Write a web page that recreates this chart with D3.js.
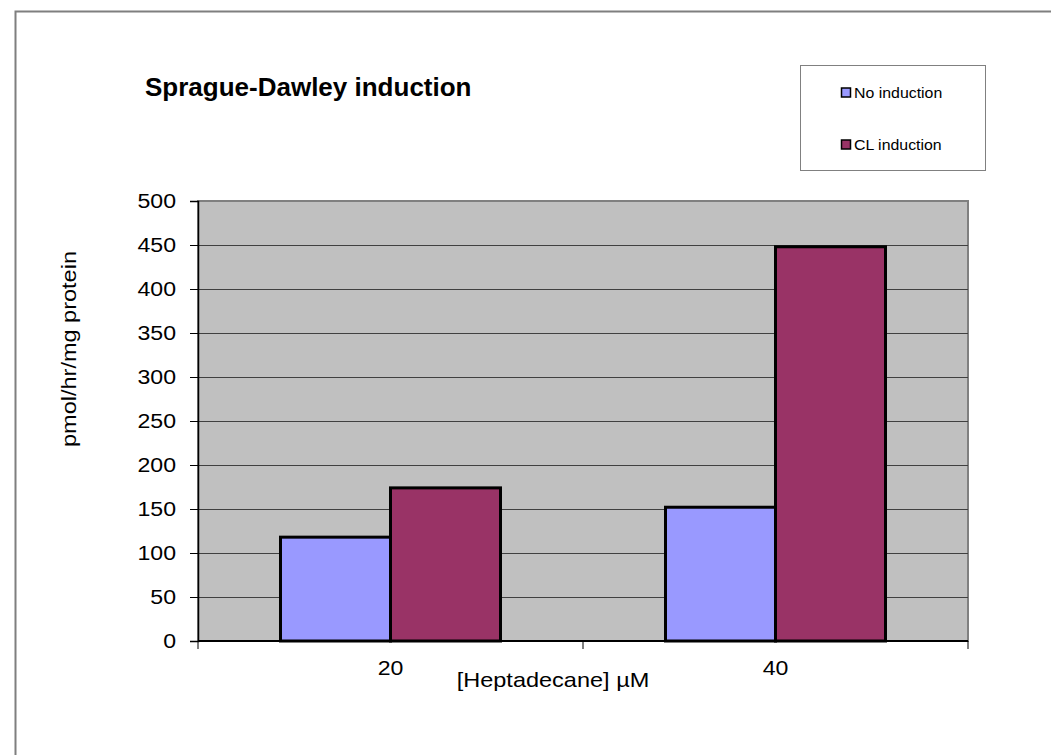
<!DOCTYPE html>
<html>
<head>
<meta charset="utf-8">
<script src="https://cdn.jsdelivr.net/npm/d3@7"></script>
<style>
  html, body { margin: 0; padding: 0; background: #fff; }
  svg { display: block; font-family: "Liberation Sans", Arial, sans-serif; }
</style>
</head>
<body>
<svg id="chart" width="1051" height="755"></svg>
<script>
// Heptadecane concentrations (µM) and activity per series
const categories = ["20", "40"];
const seriesNames = ["No induction", "CL induction"];
const noInduction = [118, 152];
const clInduction = [174, 448];
const yTicks = [0, 50, 100, 150, 200, 250, 300, 350, 400, 450, 500];
const seriesColors = ["#9999ff", "#993366"];

const svg = d3.select("#chart");

// text placed at (x, y) and widened horizontally by factor f
function wideText(parent, x, y, f, rotate) {
  const g = parent.append("g")
    .attr("transform", `translate(${x},${y})` + (rotate ? ` rotate(${rotate})` : "") + ` scale(${f},1)`);
  return g.append("text").attr("x", 0).attr("y", 0);
}

// outer chart frame
svg.append("path")
  .attr("d", "M15.5,760 V11.5 H1060")
  .attr("fill", "none")
  .attr("stroke", "#7f7f7f")
  .attr("stroke-width", 2);

const plot = { left: 198, right: 968, top: 201, bottom: 641 };

const x0 = d3.scaleBand().domain(categories).range([plot.left, plot.right]).paddingInner(0).paddingOuter(0);
const x1 = d3.scaleBand().domain(seriesNames).range([0, 220]);
const y = d3.scaleLinear().domain([0, 500]).range([plot.bottom, plot.top]);

// plot area background
svg.append("rect")
  .attr("x", plot.left).attr("y", plot.top)
  .attr("width", plot.right - plot.left).attr("height", plot.bottom - plot.top)
  .attr("fill", "#c0c0c0")
  .attr("stroke", "#808080").attr("stroke-width", 2);

// horizontal gridlines
svg.append("g")
  .selectAll("line")
  .data(yTicks.filter(d => d > 0 && d < 500))
  .join("line")
  .attr("x1", plot.left).attr("x2", plot.right)
  .attr("y1", d => Math.round(y(d)) + 0.5).attr("y2", d => Math.round(y(d)) + 0.5)
  .attr("stroke", "#404040").attr("stroke-width", 1);

// bars
const rows = categories.map((c, i) => ({ cat: c, vals: [noInduction[i], clInduction[i]] }));
svg.append("g")
  .selectAll("g")
  .data(rows)
  .join("g")
  .attr("transform", d => `translate(${x0(d.cat) + x0.bandwidth() / 2 - 110},0)`)
  .selectAll("rect")
  .data(d => d.vals.map((v, j) => ({ name: seriesNames[j], v, j })))
  .join("rect")
  .attr("x", d => x1(d.name))
  .attr("y", d => y(d.v))
  .attr("width", x1.bandwidth())
  .attr("height", d => y(0) - y(d.v))
  .attr("fill", d => seriesColors[d.j])
  .attr("stroke", "#000").attr("stroke-width", 3);

// y axis
const tickStretch = 1.1;
const yAxis = d3.axisLeft(y).tickValues(yTicks).tickSize(8).tickPadding(14);
const gy = svg.append("g").attr("transform", `translate(${plot.left},0)`).call(yAxis);
gy.attr("font-family", null).attr("font-size", null);
gy.select(".domain").attr("stroke", "#000").attr("stroke-width", 1.5);
gy.selectAll(".tick line").attr("stroke", "#000");
gy.selectAll(".tick text")
  .attr("font-size", 21).attr("fill", "#000")
  .attr("x", -22 / tickStretch)
  .attr("transform", `scale(${tickStretch},1)`);

// x axis: ticks at category boundaries
const gx = svg.append("g").attr("transform", `translate(0,${plot.bottom})`);
gx.append("line").attr("x1", plot.left).attr("x2", plot.right)
  .attr("y1", 0).attr("y2", 0).attr("stroke", "#000").attr("stroke-width", 2);
const bounds = [plot.left, ...categories.map(c => x0(c) + x0.bandwidth())];
gx.selectAll("line.tk").data(bounds).join("line").attr("class", "tk")
  .attr("x1", d => d).attr("x2", d => d).attr("y1", 0).attr("y2", 8)
  .attr("stroke", "#000");
categories.forEach(c => {
  wideText(gx, x0(c) + x0.bandwidth() / 2, 34, tickStretch)
    .attr("text-anchor", "middle").attr("font-size", 21).text(c);
});

// titles
svg.append("text").attr("x", 145).attr("y", 96)
  .attr("font-size", 26).attr("font-weight", "bold").text("Sprague-Dawley induction");
wideText(svg, 553, 687, 1.12)
  .attr("text-anchor", "middle").attr("font-size", 21).text("[Heptadecane] µM");
wideText(svg, 76, 349, 1.12, -90)
  .attr("text-anchor", "middle").attr("font-size", 21).text("pmol/hr/mg protein");

// legend
const lg = svg.append("g");
lg.append("rect").attr("x", 800.5).attr("y", 65.5).attr("width", 185).attr("height", 105)
  .attr("fill", "#fff").attr("stroke", "#808080").attr("stroke-width", 1);
const items = lg.selectAll("g").data(seriesNames).join("g")
  .attr("transform", (d, i) => `translate(841,${98 + i * 52})`);
items.append("rect").attr("x", 0.5).attr("y", -10).attr("width", 9).attr("height", 9)
  .attr("fill", (d, i) => seriesColors[i]).attr("stroke", "#000").attr("stroke-width", 1.5);
items.append("text").attr("x", 13).attr("y", 0).attr("font-size", 15)
  .attr("transform", "scale(1.06,1)").attr("x", 13 / 1.06)
  .text(d => d);
</script>
</body>
</html>
